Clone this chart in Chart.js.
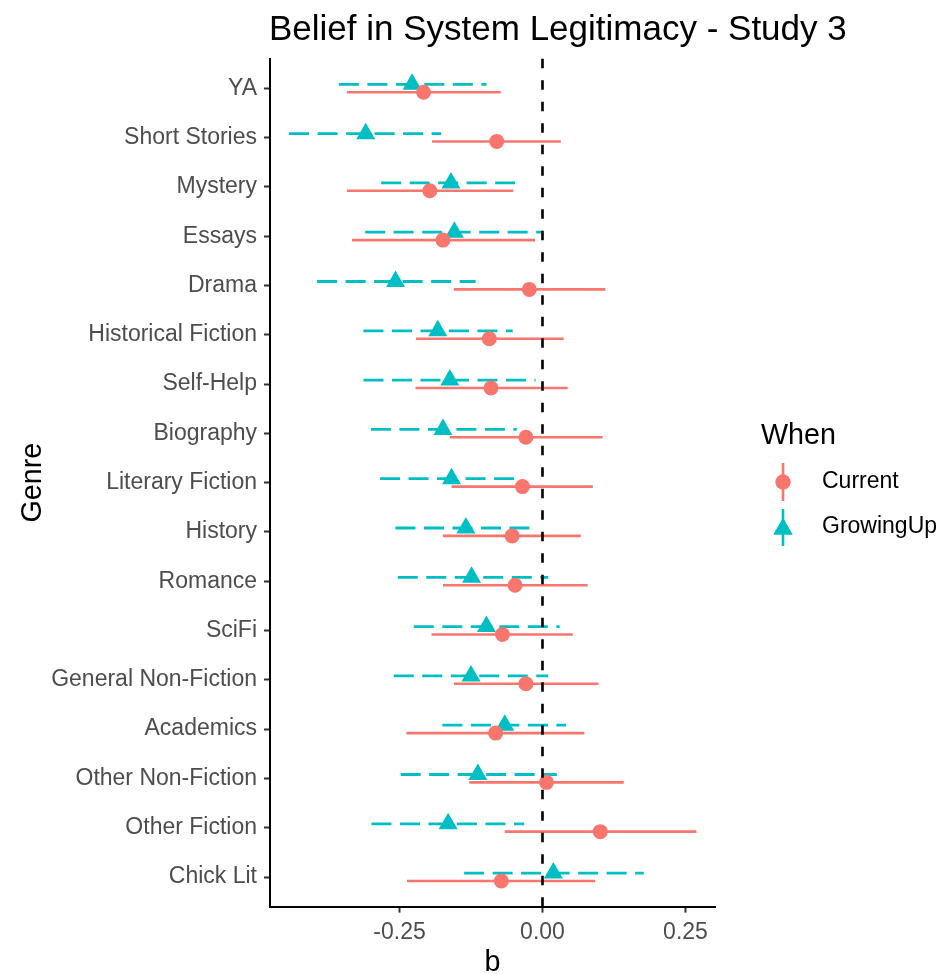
<!DOCTYPE html>
<html>
<head>
<meta charset="utf-8">
<script src="https://cdn.jsdelivr.net/npm/chart.js@4/dist/chart.umd.min.js"></script>
<style>
  html, body { margin: 0; padding: 0; background: #ffffff; }
  #wrap { width: 939px; height: 974px; }
</style>
</head>
<body>
<div id="wrap"><canvas id="c" width="939" height="974"></canvas></div>
<script>
// Genres, top to bottom
const genres = ['YA', 'Short Stories', 'Mystery', 'Essays', 'Drama', 'Historical Fiction',
  'Self-Help', 'Biography', 'Literary Fiction', 'History', 'Romance', 'SciFi',
  'General Non-Fiction', 'Academics', 'Other Non-Fiction', 'Other Fiction', 'Chick Lit'];

// Estimates (b) with lower / upper interval bounds
const currentB  = [-0.208, -0.080, -0.197, -0.174, -0.023, -0.093, -0.090, -0.029, -0.035, -0.053, -0.048, -0.070, -0.029, -0.082,  0.007,  0.101, -0.072];
const currentLo = [-0.342, -0.193, -0.342, -0.333, -0.155, -0.221, -0.222, -0.162, -0.159, -0.174, -0.174, -0.194, -0.155, -0.238, -0.128, -0.066, -0.237];
const currentHi = [-0.073,  0.032, -0.051, -0.013,  0.110,  0.037,  0.044,  0.105,  0.088,  0.067,  0.079,  0.053,  0.098,  0.073,  0.142,  0.269,  0.092];

const growB  = [-0.228, -0.309, -0.160, -0.154, -0.257, -0.183, -0.162, -0.174, -0.159, -0.134, -0.124, -0.098, -0.125, -0.066, -0.113, -0.165,  0.019];
const growLo = [-0.356, -0.443, -0.282, -0.310, -0.394, -0.313, -0.313, -0.300, -0.284, -0.257, -0.253, -0.225, -0.260, -0.175, -0.248, -0.299, -0.137];
const growHi = [-0.098, -0.177, -0.048,  0.000, -0.117, -0.052, -0.012, -0.045, -0.047, -0.023,  0.010,  0.030,  0.010,  0.041,  0.025, -0.032,  0.177];

const xTicks = [-0.25, 0, 0.25];
const seriesNames = ['Current', 'GrowingUp'];

const RED = '#F8766D';
const TEAL = '#00BFC4';
const FONT = '"Liberation Sans", Arial, Helvetica, sans-serif';
const DODGE = 0.08;

// interval segments, separated by gaps
function ranges(lo, hi, shift) {
  const pts = [];
  lo.forEach((l, i) => {
    pts.push({ x: l, y: i + shift });
    pts.push({ x: hi[i], y: i + shift });
    pts.push({ x: null, y: null });
  });
  return pts;
}
function points(vals, shift) {
  return vals.map((v, i) => ({ x: v, y: i + shift }));
}

const decor = {
  id: 'decor',
  afterDatasetsDraw(chart) {
    const { ctx, chartArea, scales } = chart;
    // reference line at b = 0
    const x0 = scales.x.getPixelForValue(0);
    ctx.save();
    ctx.strokeStyle = '#000000';
    ctx.lineWidth = 2.6;
    ctx.setLineDash([9.5, 12]);
    ctx.beginPath();
    ctx.moveTo(x0, chartArea.top);
    ctx.lineTo(x0, chartArea.bottom);
    ctx.stroke();
    ctx.restore();
  },
  afterDraw(chart) {
    const { ctx, chartArea } = chart;
    ctx.save();
    // title
    ctx.fillStyle = '#000000';
    ctx.font = '35px ' + FONT;
    ctx.textAlign = 'left';
    ctx.textBaseline = 'alphabetic';
    ctx.fillText('Belief in System Legitimacy - Study 3', chartArea.left - 1, 40);

    // axis titles
    ctx.font = '28.7px ' + FONT;
    ctx.textAlign = 'center';
    ctx.fillText('b', (chartArea.left + chartArea.right) / 2, 971);
    ctx.save();
    ctx.translate(41, (chartArea.top + chartArea.bottom) / 2);
    ctx.rotate(-Math.PI / 2);
    ctx.fillText('Genre', 0, 0);
    ctx.restore();

    // legend
    ctx.textAlign = 'left';
    ctx.fillText('When', 761, 444);
    const keys = [
      { name: seriesNames[0], color: RED, style: 'circle', r: 7.5, y: 482, y1: 463, y2: 501 },
      { name: seriesNames[1], color: TEAL, style: 'triangle', r: 11, y: 527, y1: 509, y2: 546 }
    ];
    const kx = 783;
    keys.forEach(k => {
      ctx.strokeStyle = k.color;
      ctx.lineWidth = 2.6;
      ctx.setLineDash([]);
      ctx.beginPath();
      ctx.moveTo(kx, k.y1);
      ctx.lineTo(kx, k.y2);
      ctx.stroke();
      ctx.fillStyle = k.color;
      Chart.helpers.drawPoint(ctx, { pointStyle: k.style, radius: k.r, rotation: 0, borderWidth: 0 }, kx, k.y + (k.style === 'triangle' ? 2 : 0));
      ctx.fill();
      ctx.fillStyle = '#000000';
      ctx.font = '23px ' + FONT;
      ctx.textBaseline = 'middle';
      ctx.fillText(k.name, 822, k.y);
    });
    ctx.restore();
  }
};

new Chart(document.getElementById('c'), {
  data: {
    datasets: [
      {
        type: 'scatter', label: seriesNames[0], data: points(currentB, DODGE), order: 0,
        pointStyle: 'circle', pointRadius: 7.5, pointHoverRadius: 7.5,
        backgroundColor: RED, borderWidth: 0
      },
      {
        type: 'scatter', label: seriesNames[1], data: points(growB, -DODGE), order: 1,
        pointStyle: 'triangle', pointRadius: 11, pointHoverRadius: 11,
        backgroundColor: TEAL, borderWidth: 0
      },
      {
        type: 'line', label: seriesNames[1] + ' interval', data: ranges(growLo, growHi, -DODGE), order: 2,
        borderColor: TEAL, borderWidth: 2.8, borderDash: [20, 8.5], borderCapStyle: 'butt',
        pointRadius: 0, spanGaps: false, tension: 0, fill: false
      },
      {
        type: 'line', label: seriesNames[0] + ' interval', data: ranges(currentLo, currentHi, DODGE), order: 3,
        borderColor: RED, borderWidth: 2.6, borderCapStyle: 'butt',
        pointRadius: 0, spanGaps: false, tension: 0, fill: false
      }
    ]
  },
  options: {
    responsive: false,
    animation: false,
    devicePixelRatio: 1,
    layout: { padding: { top: 58.7, right: 224, bottom: 0, left: 0 } },
    plugins: { legend: { display: false }, tooltip: { enabled: false }, title: { display: false } },
    scales: {
      x: {
        type: 'linear', position: 'bottom', min: -0.4764, max: 0.3016,
        afterBuildTicks(s) { s.ticks = xTicks.map(v => ({ value: v })); },
        afterFit(s) { s.height = 974 - 906.6; },
        ticks: {
          callback: v => v.toFixed(2), color: '#4D4D4D', padding: 6,
          font: { family: FONT, size: 23 }, maxRotation: 0
        },
        grid: { display: true, drawOnChartArea: false, drawTicks: true, tickLength: 6, tickWidth: 2, tickColor: '#333333' },
        border: { display: true, color: '#000000', width: 2 }
      },
      y: {
        type: 'linear', position: 'left', min: -0.6, max: 16.6, reverse: true,
        afterBuildTicks(s) { s.ticks = genres.map((g, i) => ({ value: i })); },
        afterFit(s) { s.width = 270; },
        ticks: {
          callback: v => genres[v], color: '#4D4D4D', padding: 7, autoSkip: false,
          font: { family: FONT, size: 23 }
        },
        grid: { display: true, drawOnChartArea: false, drawTicks: true, tickLength: 6, tickWidth: 2, tickColor: '#333333' },
        border: { display: true, color: '#000000', width: 2 }
      }
    }
  },
  plugins: [decor]
});
</script>
</body>
</html>
